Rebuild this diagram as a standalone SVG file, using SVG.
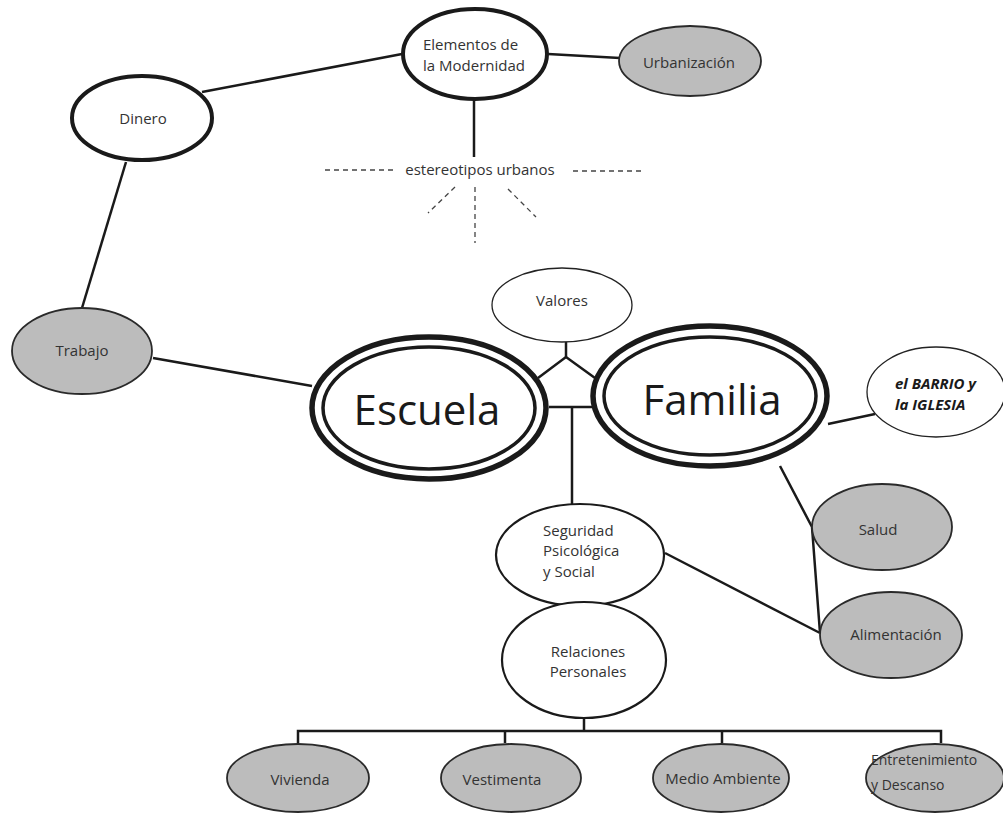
<svg xmlns="http://www.w3.org/2000/svg" width="1003" height="815" viewBox="0 0 1003 815">
<style>
.bg{fill:#ffffff}
.lbl{font-family:"Open Sans","Noto Sans","Liberation Sans",sans-serif;font-size:15px;fill:#333333}
.mid{text-anchor:middle}
.big{font-family:"Open Sans","Noto Sans","Liberation Sans",sans-serif;font-size:42px;fill:#1a1a1a;text-anchor:middle}
.thick{fill:#ffffff;stroke:#1a1a1a;stroke-width:4}
.plain{fill:#ffffff;stroke:#1a1a1a;stroke-width:2.2}
.thin{fill:#ffffff;stroke:#222222;stroke-width:1.3}
.grey{fill:#bcbcbc;stroke:#2a2a2a;stroke-width:1.8}
.ringO{fill:#ffffff;stroke:#1a1a1a;stroke-width:5.5}
.ringI{fill:none;stroke:#1a1a1a;stroke-width:3.5}
.con{fill:none;stroke:#1a1a1a;stroke-width:2.5}
.dash{fill:none;stroke:#444444;stroke-width:1.3;stroke-dasharray:5 4}
</style>
<rect class="bg" x="0" y="0" width="1003" height="815"/>

<g id="connectors">
<line class="con" x1="202" y1="92" x2="402" y2="54"/>
<line class="con" x1="548" y1="54" x2="620" y2="58"/>
<line class="con" x1="474" y1="100" x2="474" y2="157"/>
<line class="con" x1="126" y1="162" x2="82" y2="308"/>
<line class="con" x1="153" y1="358" x2="312" y2="386"/>
<polyline class="con" points="538,378 566,357 595,378"/>
<line class="con" x1="566" y1="342" x2="566" y2="357"/>
<line class="con" x1="549" y1="407" x2="592" y2="407"/>
<line class="con" x1="572" y1="407" x2="572" y2="505"/>
<line class="con" x1="828" y1="424" x2="875" y2="414"/>
<polyline class="con" points="780,466 812,527 820,633"/>
<line class="con" x1="665" y1="553" x2="820" y2="633"/>
<line class="con" x1="584" y1="718" x2="584" y2="731"/>
<polyline class="con" points="298,743 298,731 941,731 941,743"/>
<line class="con" x1="505" y1="731" x2="505" y2="743"/>
<line class="con" x1="722" y1="731" x2="722" y2="743"/>
<line class="dash" x1="325" y1="170" x2="394" y2="170"/>
<line class="dash" x1="573" y1="171" x2="642" y2="171"/>
<line class="dash" x1="455" y1="187" x2="428" y2="213"/>
<line class="dash" x1="475" y1="187" x2="475" y2="243"/>
<line class="dash" x1="508" y1="189" x2="536" y2="217"/>
</g>

<g id="estereotipos">
<text class="lbl mid" x="480" y="175">estereotipos urbanos</text>
</g>

<g id="elementos">
<ellipse class="thick" cx="475" cy="54" rx="72" ry="45"/>
<text class="lbl" x="423" y="50">Elementos de</text>
<text class="lbl" x="423" y="71">la Modernidad</text>
</g>

<g id="urbanizacion">
<ellipse class="grey" cx="690" cy="61" rx="71" ry="35"/>
<text class="lbl mid" x="689" y="68">Urbanización</text>
</g>

<g id="dinero">
<ellipse class="thick" cx="142" cy="118" rx="70" ry="42"/>
<text class="lbl mid" x="143" y="124">Dinero</text>
</g>

<g id="trabajo">
<ellipse class="grey" cx="82" cy="351" rx="70" ry="43"/>
<text class="lbl mid" x="82" y="356">Trabajo</text>
</g>

<g id="valores">
<ellipse class="thin" cx="562" cy="305" rx="70" ry="37"/>
<text class="lbl mid" x="562" y="306">Valores</text>
</g>

<g id="escuela">
<ellipse class="ringO" cx="429" cy="408" rx="117" ry="71"/>
<ellipse class="ringI" cx="429" cy="408" rx="106" ry="61"/>
<text class="big" x="427" y="425">Escuela</text>
</g>

<g id="familia">
<ellipse class="ringO" cx="710" cy="396" rx="117" ry="70"/>
<ellipse class="ringI" cx="710" cy="396" rx="106" ry="59"/>
<text class="big" x="712" y="415">Familia</text>
</g>

<g id="barrio">
<ellipse class="thin" cx="936" cy="392" rx="69" ry="45"/>
<text class="lbl" x="895" y="389" style="font-weight:bold;font-style:italic;fill:#1a1a1a">el BARRIO y</text>
<text class="lbl" x="895" y="410" style="font-weight:bold;font-style:italic;fill:#1a1a1a">la IGLESIA</text>
</g>

<g id="salud">
<ellipse class="grey" cx="882" cy="527" rx="70" ry="43"/>
<text class="lbl mid" x="878" y="535">Salud</text>
</g>

<g id="alimentacion">
<ellipse class="grey" cx="891" cy="635" rx="71" ry="43"/>
<text class="lbl mid" x="896" y="640">Alimentación</text>
</g>

<g id="seguridad">
<ellipse class="plain" cx="580" cy="555" rx="84" ry="51"/>
<text class="lbl" x="543" y="536">Seguridad</text>
<text class="lbl" x="543" y="556">Psicológica</text>
<text class="lbl" x="543" y="577">y Social</text>
</g>

<g id="relaciones">
<ellipse class="plain" cx="584" cy="660" rx="82" ry="58"/>
<text class="lbl mid" x="588" y="657">Relaciones</text>
<text class="lbl mid" x="588" y="677">Personales</text>
</g>

<g id="vivienda">
<ellipse class="grey" cx="298" cy="778" rx="71" ry="34"/>
<text class="lbl mid" x="300" y="785">Vivienda</text>
</g>

<g id="vestimenta">
<ellipse class="grey" cx="511" cy="778" rx="70" ry="34"/>
<text class="lbl mid" x="502" y="785">Vestimenta</text>
</g>

<g id="medio">
<ellipse class="grey" cx="721" cy="778" rx="68" ry="34"/>
<text class="lbl mid" x="723" y="784">Medio Ambiente</text>
</g>

<g id="entretenimiento">
<ellipse class="grey" cx="935" cy="778" rx="69" ry="34"/>
<text class="lbl" x="871" y="765" style="font-size:14px">Entretenimiento</text>
<text class="lbl" x="871" y="790" style="font-size:14px">y Descanso</text>
</g>
</svg>
